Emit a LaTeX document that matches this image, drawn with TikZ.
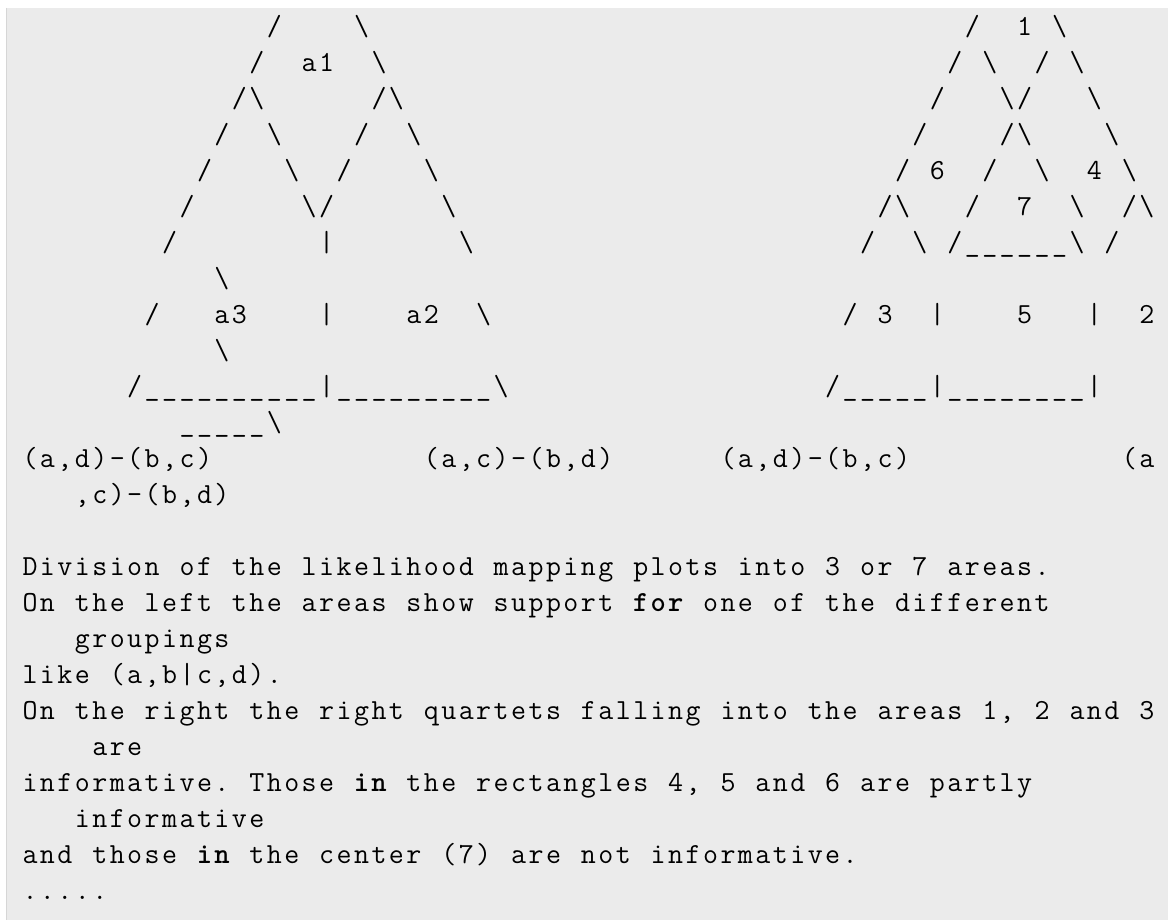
\documentclass[tikz,border=0pt]{standalone}
\definecolor{codebg}{RGB}{235,235,235}
\definecolor{ruleclr}{RGB}{214,214,214}
\makeatletter
\def\cellsend{\cellsend@}
\def\BS{\textbackslash}
\def\U{\_}
\newlength\cellw
\setlength\cellw{17.45pt}
\def\cellsx#1{\cellsi#1\cellsend}
\def\cellsi#1{\ifx#1\cellsend\else\ifx#1\bfseries\bfseries\else\ifx#1\mdseries\mdseries\else\makebox[\cellw][c]{#1}\fi\fi\expandafter\cellsi\fi}
\makeatother
\tikzset{cellrow/.style={anchor=base west, inner sep=0pt, outer sep=0pt, text=black,
  font=\fontsize{29.1pt}{36pt}\selectfont\ttfamily}}
\newcommand\putrow[4]{\node[cellrow] (#1) at ({21.3+#2*17.45},{35.5+#3*36}) {\cellsx{#4}};}
\begin{document}
\begin{tikzpicture}[x=1pt,y=-1pt]
\useasboundingbox (0,0) rectangle (1168,920);
\fill[white] (0,0) rectangle (1168,920);
\fill[codebg] (6,8) rectangle (1168,920);
\draw[ruleclr, line width=1.2pt] (6.6,8) -- (6.6,920);
% ASCII art, left and right
\putrow{r0a}{14}{0}{/~~~~\BS}
\putrow{r0b}{54}{0}{/~~1~\BS}
\putrow{r1a}{13}{1}{/~~a1~~\BS}
\putrow{r1b}{53}{1}{/~\BS~~/~\BS}
\putrow{r2a}{12}{2}{/\BS~~~~~~/\BS}
\putrow{r2b}{52}{2}{/~~~\BS/~~~\BS}
\putrow{r3a}{11}{3}{/~~\BS~~~~/~~\BS}
\putrow{r3b}{51}{3}{/~~~~/\BS~~~~\BS}
\putrow{r4a}{10}{4}{/~~~~\BS~~/~~~~\BS}
\putrow{r4b}{50}{4}{/~6~~/~~\BS~~4~\BS}
\putrow{r5a}{9}{5}{/~~~~~~\BS/~~~~~~\BS}
\putrow{r5b}{49}{5}{/\BS~~~/~~7~~\BS~~/\BS}
\putrow{r6a}{8}{6}{/~~~~~~~~|~~~~~~~\BS}
\putrow{r6b}{48}{6}{/~~\BS~/\U\U\U\U\U\U\BS~/}
\putrow{r7a}{11}{7}{\BS}
\putrow{r8a}{7}{8}{/~~~a3~~~~|~~~~a2~~\BS}
\putrow{r8b}{47}{8}{/~3~~|~~~~5~~~|~~2}
\putrow{r9a}{11}{9}{\BS}
\putrow{r10a}{6}{10}{/\U\U\U\U\U\U\U\U\U\U|\U\U\U\U\U\U\U\U\U\BS}
\putrow{r10b}{46}{10}{/\U\U\U\U\U|\U\U\U\U\U\U\U\U|}
\putrow{r11a}{9}{11}{\U\U\U\U\U\BS}
% labels
\putrow{r12a}{0}{12}{(a,d)-(b,c)}
\putrow{r12b}{23}{12}{(a,c)-(b,d)}
\putrow{r12c}{40}{12}{(a,d)-(b,c)}
\putrow{r12d}{63}{12}{(a}
\putrow{r13a}{3}{13}{,c)-(b,d)}
% caption text
\putrow{r15}{0}{15}{Division~of~the~likelihood~mapping~plots~into~3~or~7~areas.}
\putrow{r16}{0}{16}{On~the~left~the~areas~show~support~\bfseries for\mdseries ~one~of~the~different}
\putrow{r17}{3}{17}{groupings}
\putrow{r18}{0}{18}{like~(a,b|c,d).}
\putrow{r19}{0}{19}{On~the~right~the~right~quartets~falling~into~the~areas~1,~2~and~3}
\putrow{r20}{4}{20}{are}
\putrow{r21}{0}{21}{informative.~Those~\bfseries in\mdseries ~the~rectangles~4,~5~and~6~are~partly}
\putrow{r22}{3}{22}{informative}
\putrow{r23}{0}{23}{and~those~\bfseries in\mdseries ~the~center~(7)~are~not~informative.}
\putrow{r24}{0}{24}{.....}
\end{tikzpicture}
\end{document}
